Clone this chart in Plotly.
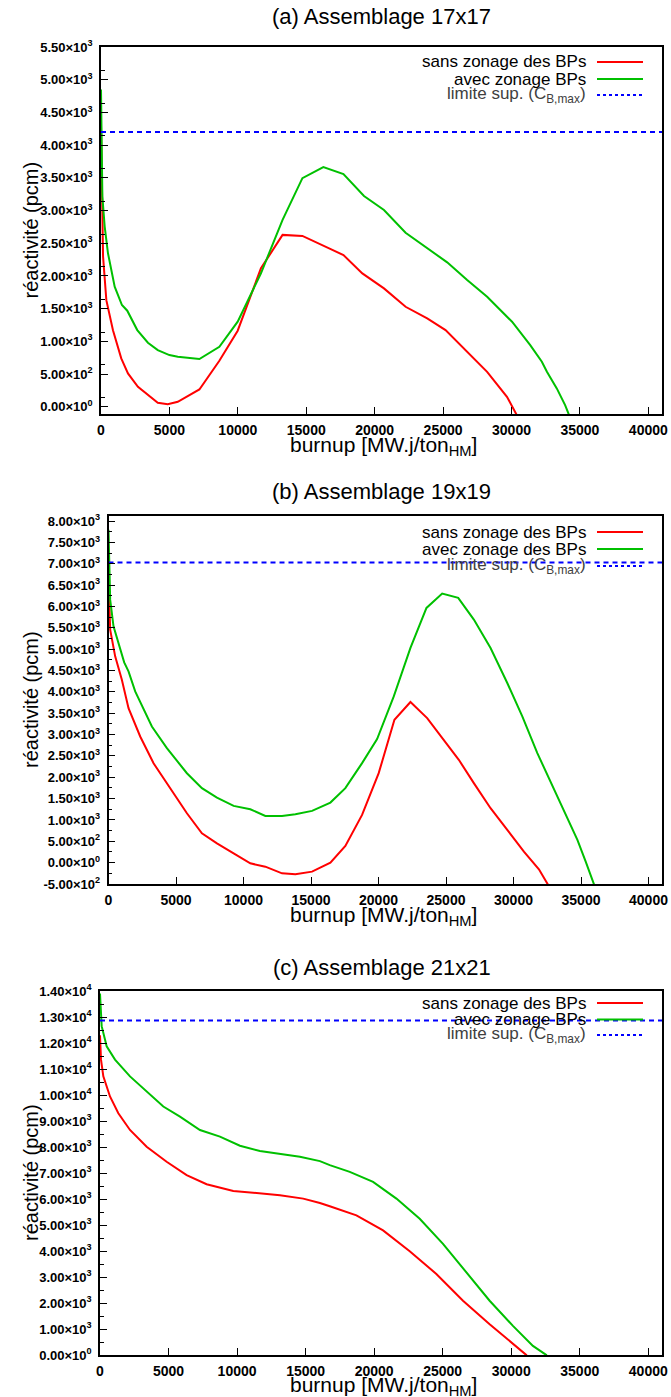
import math
import plotly.graph_objects as go

# ---------------- data ----------------
titles = ["(a) Assemblage 17x17", "(b) Assemblage 19x19", "(c) Assemblage 21x21"]
legend_red = ["sans zonage des BPs", "sans zonage des BPs", "sans zonage des BPs"]
legend_green = ["avec zonage BPs", "avec zonage des BPs", "avec zonage BPs"]
legend_blue = "limite sup. (C<sub>B,max</sub>)"

red_a_x = [0, 150, 390, 875, 1480, 1970, 2700, 4150, 4880, 5610, 7190, 8650, 9990, 11690, 13270, 14720,
           16790, 17720, 19100, 20680, 22260, 23840, 25180, 26760, 28220, 29670, 30330, 30600]
red_a_y = [4300, 2300, 1630, 1170, 740, 510, 306, 61, 41, 77, 265, 704, 1163, 2117, 2628, 2612,
           2411, 2320, 2039, 1810, 1529, 1351, 1173, 841, 535, 153, -101, -210]
green_a_x = [0, 100, 270, 510, 1000, 1530, 1920, 2650, 3430, 4150, 5000, 5610, 7190, 8650, 9990, 11690,
             13270, 14720, 16250, 17720, 19220, 20680, 22260, 23840, 25300, 26760, 28220, 30040, 31370,
             32220, 32590, 33310, 33920, 34160, 34300]
green_a_y = [4850, 3214, 2755, 2347, 1837, 1556, 1469, 1173, 980, 867, 791, 765, 730, 918, 1301, 2041,
             2857, 3495, 3663, 3558, 3222, 3008, 2661, 2422, 2208, 1937, 1682, 1300, 943,
             688, 535, 281, 26, -101, -200]

red_b_x = [0, 124, 494, 989, 1483, 2348, 3337, 4325, 5808, 6920, 8033, 9269, 10504, 11617, 12853, 13842,
           15077, 16437, 17545, 18783, 20015, 21180, 22367, 23605, 24837, 25950, 27063, 28301, 29539,
           30771, 31884, 32600]
red_b_y = [6700, 5457, 4832, 4285, 3620, 2955, 2330, 1861, 1157, 688, 453, 219, -16, -94, -250, -274,
           -211, 0, 392, 1119, 2097, 3347, 3762, 3387, 2878, 2409, 1862, 1275, 767,
           258, -156, -540]
green_b_x = [0, 124, 371, 816, 1162, 1483, 1977, 3213, 4325, 5808, 6920, 8033, 9269, 10504, 11617, 12853,
             13842, 15077, 16437, 17545, 18783, 19896, 21131, 22367, 23553, 24718, 25905, 27063, 28301,
             29539, 30652, 31765, 33000, 34110, 34733, 35348, 36000]
green_b_y = [7800, 6161, 5536, 5066, 4691, 4480, 4011, 3190, 2682, 2095, 1744, 1525, 1329, 1251, 1095, 1095,
             1134, 1212, 1407, 1745, 2331, 2894, 3894, 5029, 5967, 6303, 6202, 5693, 5029,
             4208, 3425, 2566, 1705, 924, 532, 23, -540]

red_c_x = [0, 73, 243, 729, 1337, 2188, 3403, 4861, 6320, 7778, 9723, 11181, 13126, 14827, 16043, 16764,
           17501, 18707, 20651, 22595, 24538, 26482, 28426, 30126, 31098, 31300]
red_c_y = [12300, 11360, 10716, 9943, 9300, 8655, 8011, 7432, 6917, 6569, 6311, 6247, 6144, 6015, 5848, 5719,
           5590, 5371, 4791, 3992, 3117, 2087, 1185, 412, 0, -200]
green_c_x = [0, 122, 486, 1094, 2188, 3525, 4619, 5835, 7293, 8751, 10209, 11667, 13369, 14584, 16043, 16764,
             18222, 19922, 21625, 23324, 25023, 26725, 28426, 30126, 31584, 32556, 32700]
green_c_y = [13900, 12648, 11875, 11360, 10716, 10072, 9557, 9171, 8655, 8398, 8050, 7844, 7728, 7625, 7458, 7303,
             7044, 6658, 6015, 5242, 4276, 3181, 2087, 1121, 348, 0, -200]

limit_values = [4200, 7030, 12870]
limit_x = [0, 41000]

x_ticks = [0, 5000, 10000, 15000, 20000, 25000, 30000, 35000, 40000]
x_range = [0, 41000]
y_ranges = [[-110, 5500], [-500, 8120], [0, 14000]]
y_tick_start = [0, -500, 0]
y_tick_end = [5500, 8000, 14000]
y_tick_step = [500, 500, 1000]

# ---------------- layout geometry (pixels) ----------------
W, H = 671, 1397
boxes = [  # left, right, top, bottom
    (101, 662, 47, 414),
    (108.5, 662, 516, 884),
    (100, 662, 991, 1355),
]
title_y = [17, 491, 967]
xlabel_off = [32, 32, 31]
legend_offsets = [[15, 32, 48], [16, 33, 50], [12, 28.5, 44]]

FONT = "Liberation Sans, Arial, sans-serif"
RED = "#ff0000"
GREEN = "#00c000"
BLUE = "#0000ff"


def px_x(v):
    return v / W


def px_y(v):
    return 1 - v / H


def fmt(v):
    if v == 0:
        return "<b>0.00×10<sup>0</sup></b>"
    e = int(math.floor(math.log10(abs(v))))
    m = v / 10 ** e
    return "<b>%.2f×10<sup>%d</sup></b>" % (m, e)


fig = go.Figure()
series = [
    (red_a_x, red_a_y, green_a_x, green_a_y),
    (red_b_x, red_b_y, green_b_x, green_b_y),
    (red_c_x, red_c_y, green_c_x, green_c_y),
]

annotations = []
shapes = []
for i in range(3):
    xa = "x" if i == 0 else "x%d" % (i + 1)
    ya = "y" if i == 0 else "y%d" % (i + 1)
    rx, ry, gx, gy = series[i]
    fig.add_trace(go.Scatter(x=rx, y=ry, mode="lines", line=dict(color=RED, width=2),
                             xaxis=xa, yaxis=ya, showlegend=False, name=legend_red[i]))
    fig.add_trace(go.Scatter(x=gx, y=gy, mode="lines", line=dict(color=GREEN, width=2),
                             xaxis=xa, yaxis=ya, showlegend=False, name=legend_green[i]))
    fig.add_trace(go.Scatter(x=limit_x, y=[limit_values[i]] * len(limit_x), mode="lines",
                             line=dict(color=BLUE, width=2, dash="5px,4px"),
                             xaxis=xa, yaxis=ya, showlegend=False, name="limite"))

    l, r, t, b = boxes[i]
    yt = list(range(y_tick_start[i], y_tick_end[i] + 1, y_tick_step[i]))
    half = y_tick_step[i] // 2
    minor = [v + half for v in range(y_ranges[i][0] - y_tick_step[i], y_ranges[i][1], y_tick_step[i])
             if y_ranges[i][0] <= v + half <= y_ranges[i][1]]
    axis_common = dict(showline=True, linecolor="black", linewidth=1.5, mirror=True,
                       ticks="inside", tickcolor="black", tickwidth=1, showgrid=False, zeroline=False,
                       automargin=False)
    fig.layout[("xaxis" if i == 0 else "xaxis%d" % (i + 1))] = dict(
        domain=[px_x(l), px_x(r)], anchor=ya, range=x_range,
        tickvals=x_ticks, ticktext=["<b>%d</b>" % v for v in x_ticks], ticklen=7,
        tickfont=dict(family=FONT, size=14, color="black"), ticklabelstandoff=2, **axis_common)
    fig.layout[("yaxis" if i == 0 else "yaxis%d" % (i + 1))] = dict(
        domain=[px_y(b), px_y(t)], anchor=xa, range=y_ranges[i],
        tickvals=yt, ticktext=[fmt(v) for v in yt], ticklen=7,
        minor=dict(tickvals=minor, ticks="inside", ticklen=4, tickcolor="black", tickwidth=1),
        tickfont=dict(family=FONT, size=13, color="black"), ticklabelstandoff=4, **axis_common)

    annotations.append(dict(text=titles[i], x=px_x(382), y=px_y(title_y[i]), xref="paper", yref="paper",
                            showarrow=False, xanchor="center", yanchor="middle",
                            font=dict(family=FONT, size=22, color="black")))
    annotations.append(dict(text="burnup [MW.j/ton<sub>HM</sub>]", x=px_x(383), y=px_y(b + xlabel_off[i]),
                            xref="paper", yref="paper", showarrow=False, xanchor="center",
                            yanchor="middle", font=dict(family=FONT, size=21, color="black")))
    annotations.append(dict(text="réactivité (pcm)", x=px_x(31), y=px_y((t + b) / 2),
                            xref="paper", yref="paper", showarrow=False, textangle=-90,
                            xanchor="center", yanchor="middle",
                            font=dict(family=FONT, size=20, color="black")))
    labels = [legend_red[i], legend_green[i], legend_blue]
    colors = [RED, GREEN, BLUE]
    tcolors = ["black", "black", "#404040"]
    for k in range(3):
        yy = t + legend_offsets[i][k]
        annotations.append(dict(text=labels[k], x=px_x(588), y=px_y(yy), xref="paper", yref="paper",
                                showarrow=False, xanchor="right", yanchor="middle",
                                font=dict(family=FONT, size=17, color=tcolors[k])))
        shapes.append(dict(type="line", xref="paper", yref="paper", x0=px_x(597), x1=px_x(643),
                           y0=px_y(yy), y1=px_y(yy),
                           line=dict(color=colors[k], width=2, dash="dot" if k == 2 else "solid")))

fig.update_layout(width=W, height=H, autosize=False, margin=dict(l=0, r=0, t=0, b=0),
                  paper_bgcolor="white", plot_bgcolor="white", annotations=annotations, shapes=shapes,
                  font=dict(family=FONT))
fig.write_html("out.html", config={"displayModeBar": False},
               post_script="document.body.style.margin='0';document.body.style.overflow='hidden';")
